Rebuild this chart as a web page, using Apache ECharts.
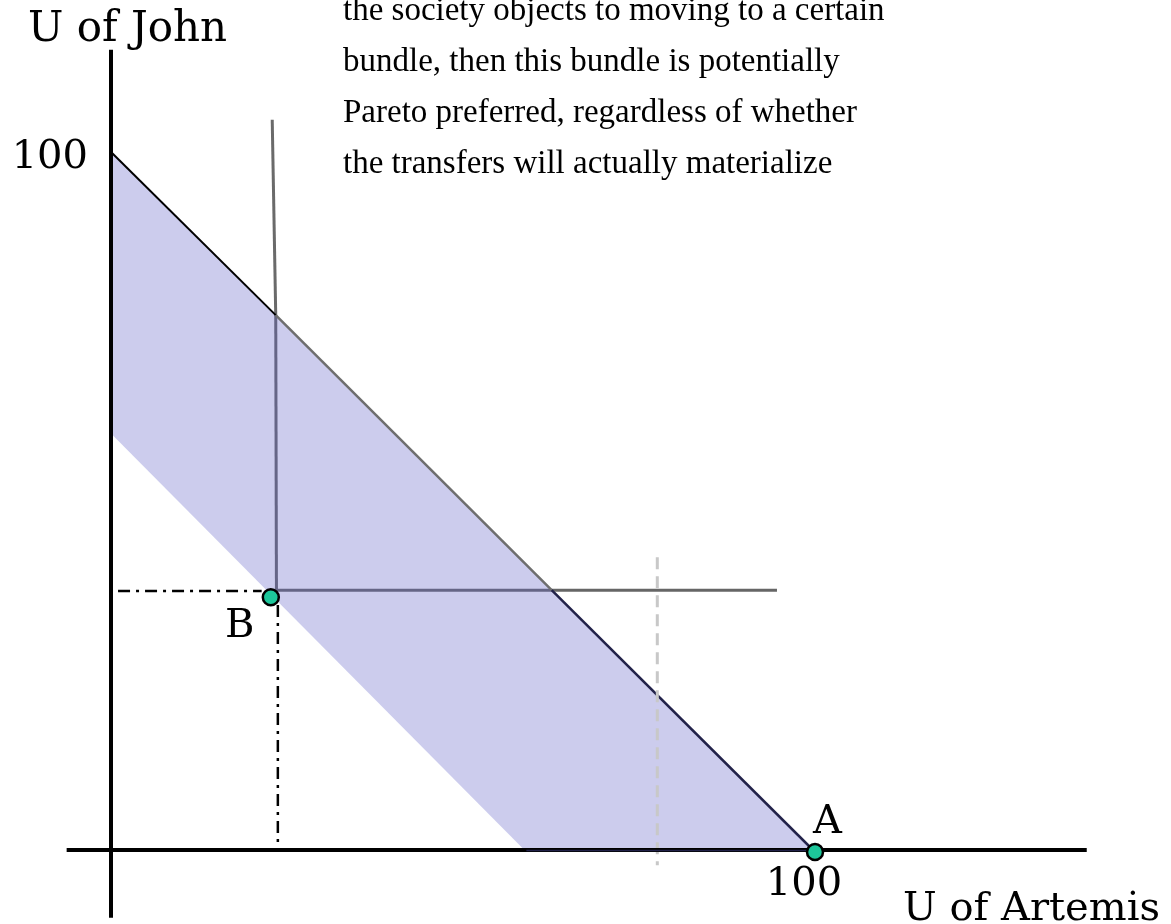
<!DOCTYPE html>
<html>
<head>
<meta charset="utf-8">
<title>Pareto</title>
<script src="https://cdn.jsdelivr.net/npm/echarts@6/dist/echarts.min.js"></script>
<style>
html,body{margin:0;padding:0;background:#fff;}
#chart{width:1171px;height:924px;}
</style>
</head>
<body>
<div id="chart"></div>
<script>
// axes (drawn as plain segments so they can cross past the origin)
var xAxisLine = [[-6.3, 0.3], [138.6, 0.3]];
var yAxisLine = [[0, -9.4], [0, 114.6]];
// shaded band
var bandPoints = [[0, 100], [100, 0], [59, 0], [0, 59.8]];
// frontier pieces
var frontierTop = [[0, 100], [23.4, 76.7]];
var frontierMid = [[23.4, 76.7], [62.6, 37.4]];
var frontierLow = [[62.6, 37.4], [100, 0]];
var bandBottom = [[59, 0.2], [100, 0.2]];
// grey L-shaped lines
var greyTop = [[22.9, 104.6], [23.4, 76.7]];
var greyVertical = [[23.4, 76.7], [23.5, 37.4]];
var greyHorizontal = [[23.5, 37.4], [94.6, 37.4]];
// dashed guides
var dashH = [[1.0, 37.3], [21.4, 37.3]];
var dashV = [[23.7, 35.3], [23.7, 0.6]];
var dashGrey = [[77.6, 42.1], [77.6, -1.9]];
// points
var pointA = [100, 0];
var pointB = [22.7, 36.4];
var noteLines = [
	'the society objects to moving to a certain',
	'bundle, then this bundle is potentially',
	'Pareto preferred, regardless of whether',
	'the transfers will actually materialize'
];

function seg(data, color, width, type, z){
	return {
		type: 'line',
		data: data,
		symbol: 'none',
		clip: false,
		silent: true,
		z: z,
		animation: false,
		lineStyle: {color: color, width: width, type: type || 'solid', cap: 'butt'}
	};
}

// whole canvas is the grid: 0 -> x 111px, 100 -> x 815px ; 0 -> y 852px, 100 -> y 152px
var xPx = 7.04, yPx = 7;
var labelFont = '40px "DejaVu Serif"';
var myChart = echarts.init(document.getElementById('chart'));
var option = {
	backgroundColor: '#fff',
	animation: false,
	grid: {left: 0, top: 0, right: 0, bottom: 0},
	xAxis: {type: 'value', min: -111 / xPx, max: (1171 - 111) / xPx, show: false},
	yAxis: {type: 'value', min: (852 - 924) / yPx, max: 852 / yPx, show: false},
	graphic: [
		{type: 'text', x: 343, y: -14.5, z: 10, style: {text: noteLines.join('\n'), font: '33px "Liberation Serif"', lineHeight: 51, fill: '#000', align: 'left', verticalAlign: 'top'}},
		{type: 'text', x: 28, y: 30, z: 10, style: {text: 'U of John', font: '42px "DejaVu Serif"', fill: '#000', align: 'left', verticalAlign: 'middle'}},
		{type: 'text', x: 88, y: 158, z: 10, style: {text: '100', font: labelFont, fill: '#000', align: 'right', verticalAlign: 'middle'}},
		{type: 'text', x: 225, y: 627, z: 10, style: {text: 'B', font: labelFont, fill: '#000', align: 'left', verticalAlign: 'middle'}},
		{type: 'text', x: 813, y: 823, z: 10, style: {text: 'A', font: labelFont, fill: '#000', align: 'left', verticalAlign: 'middle'}},
		{type: 'text', x: 804, y: 885, z: 10, style: {text: '100', font: labelFont, fill: '#000', align: 'center', verticalAlign: 'middle'}},
		{type: 'text', x: 903, y: 910, z: 10, style: {text: 'U of Artemis', font: labelFont, fill: '#000', align: 'left', verticalAlign: 'middle'}}
	],
	series: [
		seg(greyVertical, '#666', 3, 'solid', 1),
		seg(greyHorizontal, '#666', 3, 'solid', 1),
		{
			type: 'custom',
			data: [[0, 0]],
			clip: false,
			silent: true,
			z: 2,
			renderItem: function(params, api){
				var pts = [];
				for(var i=0;i<bandPoints.length;i++){
					pts.push(api.coord(bandPoints[i]));
				}
				return {type: 'polygon', shape: {points: pts}, style: {fill: 'rgba(100,100,200,0.33)'}};
			}
		},
		seg(greyTop, '#6a6a6a', 3, 'solid', 3),
		seg(frontierTop, '#000', 2, 'solid', 3),
		seg(frontierMid, '#6e6e6e', 2.5, 'solid', 3),
		seg(frontierLow, '#22224a', 2.5, 'solid', 3),
		seg(dashH, '#000', 2.5, [12, 6, 3, 6], 3),
		seg(dashV, '#000', 2.5, [12, 6, 3, 6], 3),
		seg(dashGrey, '#c8c8c8', 3, [12, 7], 3),
		seg(xAxisLine, '#000', 4, 'solid', 4),
		seg(yAxisLine, '#000', 4, 'solid', 4),
		seg(bandBottom, '#22224a', 1.5, 'solid', 4),
		{
			type: 'scatter',
			data: [pointA, pointB],
			symbolSize: 16,
			clip: false,
			silent: true,
			z: 5,
			itemStyle: {color: '#1dc69a', borderColor: '#000', borderWidth: 2.5, opacity: 1}
		}
	]
};
myChart.setOption(option);
</script>
</body>
</html>
